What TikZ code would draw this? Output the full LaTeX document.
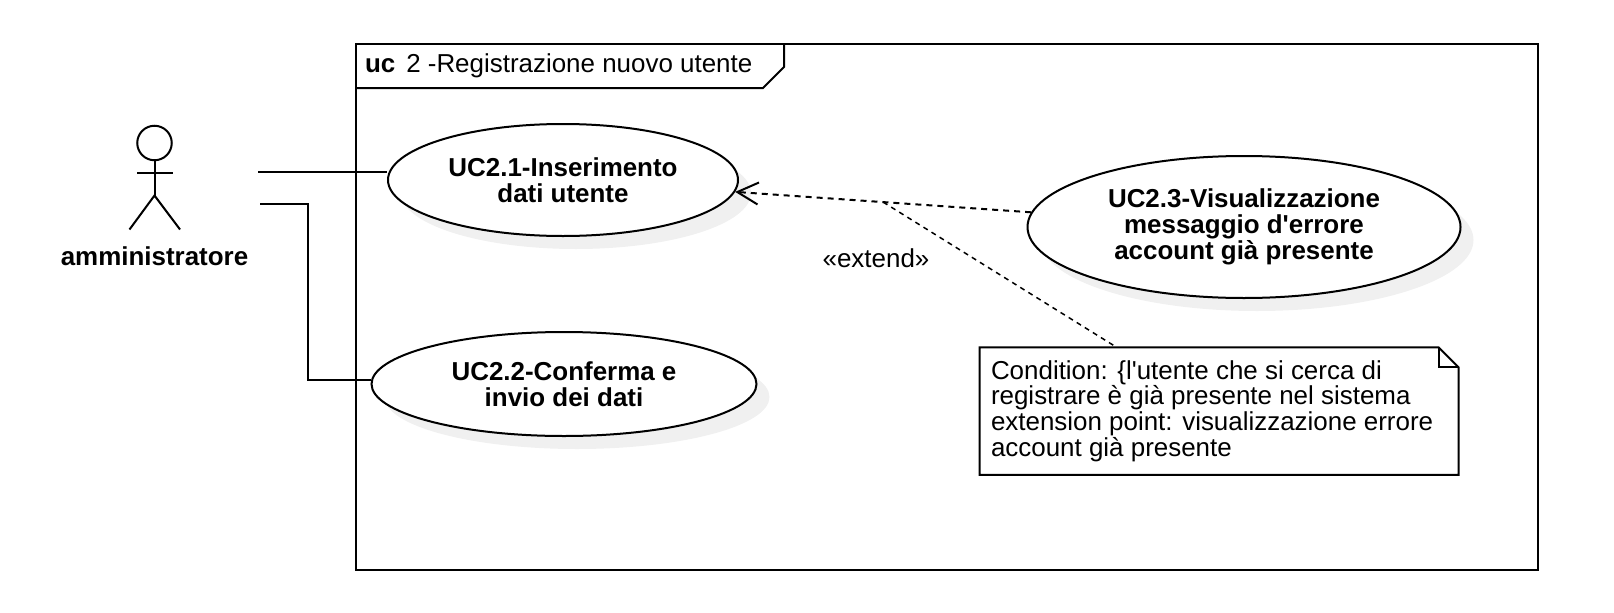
\documentclass[tikz,border=0pt]{standalone}
\usepackage{fontspec}
\setmainfont{Liberation Sans}[Ligatures=TeXOff]
\usetikzlibrary{arrows.meta,calc,positioning,shapes.geometric,shadows}

\begin{document}
\begin{tikzpicture}[
  line width=.02cm,
  label/.style={
    inner sep=0pt,
    align=center,
    font=\fontsize{7.38}{7.3}\selectfont
  },
  usecase/.style={
    label,
    ellipse,
    draw,
    fill=white,
    font=\fontsize{7.38}{7.3}\selectfont\bfseries,
    drop shadow={shadow xshift=.13,shadow yshift=-.13,fill=black!6,opacity=1}
  },
  extendline/.style={
    -{Straight Barb[length=.21cm,width=.22cm]},
    dash pattern=on .06cm off .05cm
  },
  noteline/.style={
    line width=.015cm,
    dash pattern=on .05cm off .045cm,
    shorten >=.03cm
  }
]
\useasboundingbox (0,0) rectangle (16.14,-6.12);

% Frame
\node[draw,rectangle,minimum width=11.82cm,minimum height=5.26cm,inner sep=0pt]
  (frame) at (9.47,-3.07) {};
\coordinate (tabend) at (7.63,-0.88);
\draw (frame.west|-tabend) -- (tabend) -- (7.84,-0.67) -- (7.84,-0.44);
\node[label,anchor=west] (title) at (3.64,-0.66)
  {\textbf{uc}\hspace{.11cm}2 -Registrazione nuovo utente};

% Actor
\node[circle,draw,minimum size=.345cm,inner sep=0pt] (head) at (1.545,-1.43) {};
\coordinate (hip) at (1.545,-1.955);
\coordinate (armleft) at (1.37,-1.73);
\coordinate (armright) at (1.73,-1.73);
\draw (head.south) -- (hip);
\draw (armleft) -- (armright);
\draw (1.295,-2.295) -- (hip) -- (1.80,-2.295);
\node[label,font=\fontsize{7.38}{7.3}\selectfont\bfseries] (actor) at (1.545,-2.56)
  {amministratore};

% Use cases
\node[usecase,minimum width=3.5cm,minimum height=1.12cm] (uc1) at (5.63,-1.80)
  {UC2.1-Inserimento\\dati utente};
\node[usecase,minimum width=3.85cm,minimum height=1.04cm] (uc2) at (5.64,-3.84)
  {UC2.2-Conferma e\\invio dei dati};
\node[usecase,minimum width=4.33cm,minimum height=1.42cm] (uc3) at (12.44,-2.27)
  {UC2.3-Visualizzazione\\messaggio d'errore\\account già presente};

% Note
\node[minimum width=4.77cm,minimum height=1.255cm,inner sep=0pt] (note) at (12.19,-4.11) {};
\draw (note.south west) -- (note.north west) -- ($(note.north east)+(-.2,0)$)
  -- ($(note.north east)+(0,-.2)$) -- (note.south east) -- cycle;
\draw ($(note.north east)+(-.2,0)$) -- ($(note.north east)+(-.2,-.2)$)
  -- ($(note.north east)+(0,-.2)$);
\node[label,align=left,anchor=west] (notetext) at (9.90,-4.11)
  {Condition: \{l'utente che si cerca di\\registrare è già presente nel sistema\\extension point: visualizzazione errore\\account già presente};

% Connectors
\coordinate (a1) at (2.58,-1.72);
\coordinate (a2) at (2.60,-2.04);
\coordinate (elbow) at (3.08,-3.80);
\draw (a1) -- (uc1.west|-a1);
\draw (a2) -| (elbow) -- (uc2.west|-elbow);
\draw[extendline] (uc3) -- coordinate (join) (uc1);
\draw[noteline] (join) -- (note);
\node[label] (extend) at (8.76,-2.58) {«extend»};
\end{tikzpicture}
\end{document}
